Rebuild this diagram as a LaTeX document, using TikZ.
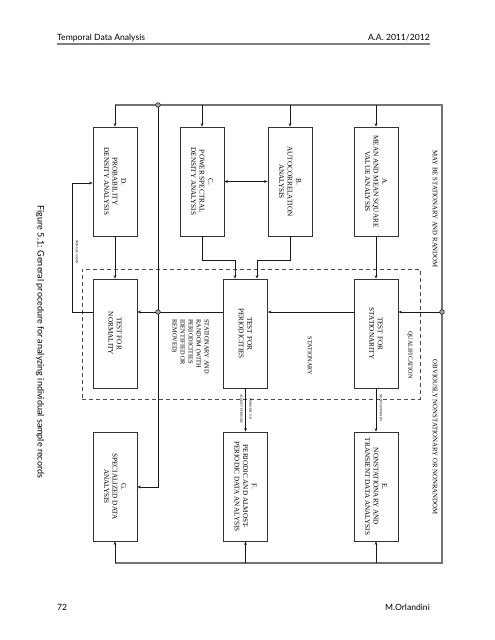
\documentclass[tikz,border=0pt]{standalone}
\usepackage{fontspec}
\setmainfont{Liberation Serif}
\newfontfamily\pagefont{Lato}
\usetikzlibrary{arrows.meta}
\tikzset{
  box/.style={draw=black!80, line width=0.7pt, rotate=-90, minimum width=109pt, minimum height=44pt,
    inner sep=0pt, align=center, font=\fontsize{7.2}{8.6}\selectfont},
  conn/.style={draw=black!90, line width=0.6pt},
  arr/.style={conn, -{Stealth[length=3.6pt,width=2.8pt]}},
  darr/.style={conn, {Stealth[length=3.6pt,width=2.8pt]}-{Stealth[length=3.6pt,width=2.8pt]}},
  outer/.style={draw=black!55, line width=1.3pt},
  junc/.style={circle, draw=black!85, fill=black!35, minimum size=4.6pt, inner sep=0pt, line width=0.6pt},
  rlab/.style={rotate=-90, inner sep=0pt},
  tiny/.style={rlab, font=\fontsize{3.3}{3.6}\selectfont},
  qual/.style={draw=black!70, dashed, dash pattern=on 4pt off 3pt, line width=0.8pt, minimum width=338pt, minimum height=130pt, inner sep=0pt},
}
\begin{document}
\begin{tikzpicture}[x=1pt,y=-1pt]
\useasboundingbox (0,0) rectangle (495,640);
% page header / footer
\node[anchor=base west, inner sep=0pt, font=\pagefont\fontsize{8.6}{10}\selectfont] (hl) at (57,40) {Temporal Data Analysis};
\node[anchor=base east, inner sep=0pt, font=\pagefont\fontsize{8.6}{10}\selectfont] (hr) at (430,40) {A.A. 2011/2012};
\coordinate (rl) at (57,44); \coordinate (rr) at (430,44);
\draw[draw=black!50, line width=1.2pt] (rl) -- (rr);
\node[anchor=base west, inner sep=0pt, font=\pagefont\fontsize{8.6}{10}\selectfont] (fl) at (57,610) {72};
\node[anchor=base east, inner sep=0pt, font=\pagefont\fontsize{8.6}{10}\selectfont] (fr) at (430,610) {M.Orlandini};
% caption
\node[rlab, font=\pagefont\fontsize{9}{11}\selectfont] (cap) at (40,342) {Figure 5.1: General procedure for analyzing individual sample records};

% qualification frame
\node[qual] (Q) at (251,334) {};

% boxes
\node[box] (D) at (115,181.5) {D.\\PROBABILITY\\DENSITY ANALYSIS};
\node[box] (C) at (202,181.5) {C.\\POWER SPECTRAL\\DENSITY ANALYSIS};
\node[box] (B) at (290,181.5) {B.\\AUTOCORRELATION\\ANALYSIS};
\node[box] (A) at (376,181.5) {A.\\MEAN AND MEAN SQUARE\\VALUE ANALYSIS};
\node[box] (N) at (115,333.5) {TEST FOR\\NORMALITY};
\node[box] (P) at (245.5,333.5) {TEST FOR\\PERIODICITIES};
\node[box] (S) at (376,333.5) {TEST FOR\\STATIONARITY};
\node[box] (G) at (115,486.5) {G.\\SPECIALIZED DATA\\ANALYSIS};
\node[box] (F) at (245.5,486.5) {F.\\PERIODIC AND ALMOST-\\PERIODIC DATA ANALYSIS};
\node[box] (E) at (376,486.5) {E.\\NONSTATIONARY AND\\TRANSIENT DATA ANALYSIS};

% outer routing
\coordinate (TL) at (115,105); \coordinate (TR) at (442,105);
\coordinate (BR) at (442,563); \coordinate (BL) at (115,563);
\coordinate (jc1) at (158,105); \coordinate (jc2) at (158,312); \coordinate (jc3) at (442,312);
\draw[outer] (TL) -- (TR) -- (BR) -- (BL);
\draw[arr] (TL) -- (D.west);
\draw[arr] (C.west |- TL) -- (C.west);
\draw[arr] (B.west |- TL) -- (B.west);
\draw[arr] (A.west |- TL) -- (A.west);
\draw[arr] (BL) -- (G.east);
\draw[arr] (F.east |- BL) -- (F.east);
\draw[arr] (E.east |- BL) -- (E.east);

% G branch
\coordinate (gk) at (158,487);
\draw[arr] (jc1) -- (gk) -- (gk -| G.north);

% inner flow
\draw[arr] (A.east) -- (S.west);
\draw[arr] (D.east) -- (N.west);
\draw[arr] (jc3) -- (jc3 -| S.north);
\draw[arr] (S.south |- jc3) -- (P.north |- jc3);
\draw[arr] (P.south |- jc3) -- (N.north |- jc3);
\coordinate (ng1) at (72,312); \coordinate (ng2) at (72,183);
\draw[arr] (N.south |- jc3) -- (ng1) -- (ng2) -- (ng2 -| D.south);
\coordinate (cp) at (235,260); \coordinate (bp) at (257,260);
\draw[arr] (C.east) |- (cp) -- (cp |- P.west);
\draw[arr] (B.east) |- (bp) -- (bp |- P.west);
\draw[darr] (C.north) -- (B.south);
\draw[arr] (S.east) -- (E.west);
\draw[arr] (P.east) -- (F.west);

% junction circles
\node[junc] (j1) at (jc1) {};
\node[junc] (j2) at (jc2) {};
\node[junc] (j3) at (jc3) {};

% labels
\node[rlab, font=\fontsize{6.8}{8}\selectfont] (l1) at (435,209) {MAY BE STATIONARY AND RANDOM};
\node[rlab, font=\fontsize{6.8}{8}\selectfont] (l2) at (435,437) {OBVIOUSLY NONSTATIONARY OR NONRANDOM};
\node[rlab, font=\fontsize{6.2}{7}\selectfont] (l3) at (410,355) {QUALIFICATION};
\node[rlab, font=\fontsize{6.2}{7}\selectfont] (l4) at (310,356) {STATIONARY};
\node[rlab, anchor=west, align=left, font=\fontsize{6.4}{8}\selectfont] (l5) at (190,319) {STATIONARY AND\\RANDOM (WITH\\PERIODICITIES\\IDENTIFIED OR\\REMOVED)};
\node[tiny] (l6) at (77,252) {NONGAUSSIAN};
\node[tiny] (l7) at (381,408) {NONSTATIONARY};
\node[tiny] (l8) at (250.5,409) {PERIODIC OR};
\node[tiny] (l9) at (241.5,409) {ALMOST PERIODIC};
\end{tikzpicture}
\end{document}
